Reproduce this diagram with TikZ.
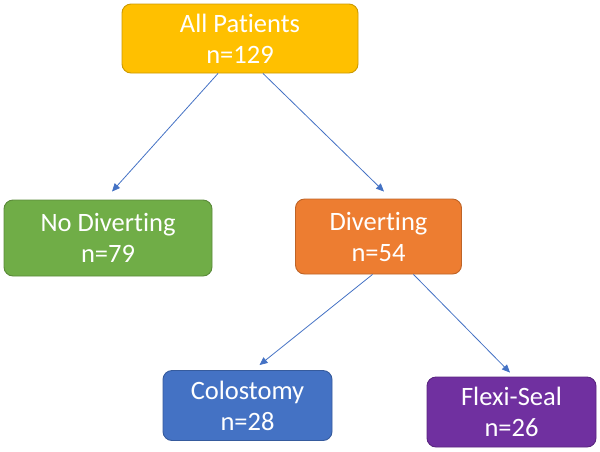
\documentclass[tikz,border=0pt]{standalone}
\usepackage{fontspec}
\setmainfont{Carlito}[Ligatures=NoCommon]
\usetikzlibrary{arrows.meta,calc}
\definecolor{cgold}{HTML}{FFC000}
\definecolor{cgreen}{HTML}{70AD47}
\definecolor{corange}{HTML}{ED7D31}
\definecolor{cblue}{HTML}{4472C4}
\definecolor{cpurple}{HTML}{7030A0}
\tikzset{
  box/.style={rounded corners=9pt, line width=0.9pt, text=white, align=center,
    font=\fontsize{26.5}{31}\selectfont, inner sep=0pt},
  conn/.style={draw=cblue, line width=0.8pt, -{Triangle[length=8pt,width=7pt]}}
}
\begin{document}
\begin{tikzpicture}[x=1pt,y=-1pt]
\useasboundingbox (0,0) rectangle (600,451);
\node[box, fill=cgold, draw=cgold!80!black, minimum width=236pt, minimum height=69pt] (ap) at (240,38.5) {All Patients\\n=129};
\node[box, fill=cgreen, draw=cgreen!80!black, minimum width=208pt, minimum height=76pt] (nd) at (108,238) {No Diverting\\n=79};
\node[box, fill=corange, draw=corange!80!black, minimum width=166pt, minimum height=75pt] (dv) at (378.5,236.5) {Diverting\\n=54};
\node[box, fill=cblue, draw=cblue!80!black, minimum width=169pt, minimum height=70pt] (co) at (247.5,405.5) {Colostomy\\n=28};
\node[box, fill=cpurple, draw=cpurple!80!black, minimum width=169pt, minimum height=70pt] (fs) at (511.5,412) {Flexi-Seal\\n=26};
\draw[conn] ($(ap.south)+(-22,0)$) -- ($(nd.north)+(4,-8)$);
\draw[conn] ($(ap.south)+(23,0)$) -- ($(dv.north)+(5.5,-7)$);
\draw[conn] ($(dv.south)+(-6,0)$) -- ($(co.north)+(12,-5)$);
\draw[conn] ($(dv.south)+(35,0)$) -- ($(fs.north)+(-1.5,-4)$);
\end{tikzpicture}
\end{document}
